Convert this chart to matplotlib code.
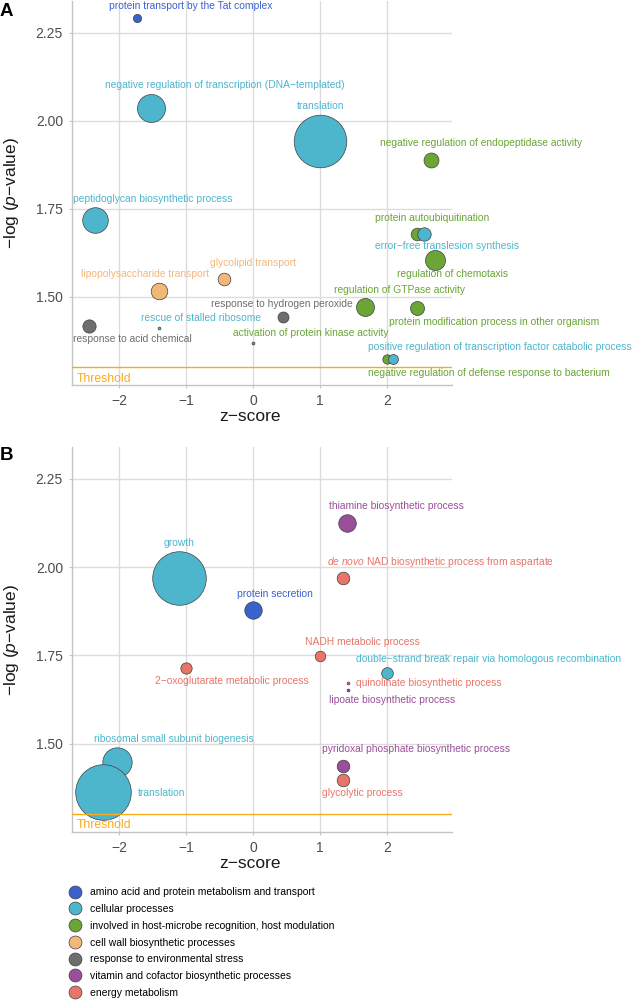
import matplotlib
matplotlib.use("Agg")
import matplotlib.pyplot as plt
from matplotlib.lines import Line2D

plt.rcParams['font.family'] = ['Liberation Sans', 'DejaVu Sans']
plt.rcParams['mathtext.fontset'] = 'custom'
plt.rcParams['mathtext.rm'] = 'Liberation Sans'
plt.rcParams['mathtext.it'] = 'Liberation Sans:italic'
plt.rcParams['mathtext.bf'] = 'Liberation Sans:bold'

# ---------------- categories ----------------
categories = [
    "amino acid and protein metabolism and transport",
    "cellular processes",
    "involved in host-microbe recognition, host modulation",
    "cell wall biosynthetic processes",
    "response to environmental stress",
    "vitamin and cofactor biosynthetic processes",
    "energy metabolism",
]
category_colors = ["#3A62CC", "#4DB6CC", "#6AA535", "#F3B77A", "#6E6E6E", "#9B4F9B", "#E8756A"]

# ---------------- panel A data ----------------
a_terms = [
    "protein transport by the Tat complex",
    "negative regulation of transcription (DNA\u2212templated)",
    "translation",
    "negative regulation of endopeptidase activity",
    "peptidoglycan biosynthetic process",
    "protein autoubiquitination",
    "error\u2212free translesion synthesis",
    "regulation of chemotaxis",
    "regulation of GTPase activity",
    "protein modification process in other organism",
    "lipopolysaccharide transport",
    "glycolipid transport",
    "response to hydrogen peroxide",
    "response to acid chemical",
    "rescue of stalled ribosome",
    "activation of protein kinase activity",
    "negative regulation of defense response to bacterium",
    "positive regulation of transcription factor catabolic process",
]
a_category = [0, 1, 1, 2, 1, 2, 1, 2, 2, 2, 3, 3, 4, 4, 1, 2, 2, 1]
a_zscore = [-1.74, -1.52, 1.00, 2.66, -2.36, 2.45, 2.56, 2.72, 1.67, 2.46,
            -1.41, -0.44, 0.45, -2.46, -1.41, 0.00, 2.00, 2.09]
a_logp = [2.293, 2.036, 1.942, 1.888, 1.717, 1.680, 1.680, 1.605, 1.470, 1.468,
          1.518, 1.550, 1.442, 1.418, 1.413, 1.368, 1.323, 1.323]
a_value = [17, 196, 692, 56, 164, 40, 45, 100, 81, 49, 69, 40, 30, 44, 2, 2, 22, 25]

# ---------------- panel B data ----------------
b_terms = [
    "growth",
    "protein secretion",
    "thiamine biosynthetic process",
    "$\\mathit{de\\ novo}$ NAD biosynthetic process from aspartate",
    "NADH metabolic process",
    "double\u2212strand break repair via homologous recombination",
    "quinolinate biosynthetic process",
    "lipoate biosynthetic process",
    "2\u2212oxoglutarate metabolic process",
    "ribosomal small subunit biogenesis",
    "translation",
    "pyridoxal phosphate biosynthetic process",
    "glycolytic process",
]
b_category = [1, 0, 5, 6, 6, 1, 6, 5, 6, 1, 1, 5, 6]
b_zscore = [-1.11, 0.00, 1.40, 1.35, 1.00, 2.01, 1.42, 1.42, -1.00, -2.04, -2.25, 1.35, 1.35]
b_logp = [1.970, 1.878, 2.125, 1.970, 1.748, 1.701, 1.672, 1.653, 1.715, 1.447, 1.362, 1.438, 1.398]
b_value = [718, 76, 77, 40, 28, 34, 2, 2, 32, 216, 773, 40, 40]

threshold = 1.301
x_ticks = [-2, -1, 0, 1, 2]
y_ticks = [1.50, 1.75, 2.00, 2.25]

# ---------------- layout (label offsets in pixels, y up) ----------------
a_label_offsets = [
    (53.7, 11.7), (73.3, 23.3), (0.3, 35.3), (50.0, 17.6), (57.0, 21.7),
    (15.3, 16.0), (22.5, -12.0), (18.0, -14.3), (35.0, 17.0), (76.4, -13.4),
    (-13.7, 16.7), (29.3, 16.0), (-1.3, 13.0), (43.4, -13.0), (41.8, 9.7),
    (57.5, 10.3), (102.0, -14.0), (106.8, 12.6),
]
b_label_offsets = [
    (0.3, 34.4), (22.3, 15.7), (50.0, 17.0), (97.8, 15.7), (42.5, 13.7),
    (101.4, 13.3), (80.9, -0.4), (44.2, -10.0), (45.8, -13.4), (57.4, 23.4),
    (59.3, -0.3), (73.0, 16.3), (19.2, -13.7),
]

W, H = 633, 1000
fig = plt.figure(figsize=(W / 100, H / 100), dpi=100)
PX = 0.72  # points per pixel
grid_c = "#DCDCDC"
spine_c = "#C4C4C4"
tick_c = "#4D4D4D"
thr_c = "#FBAA1A"


def make_panel(rect, terms, cats, xs, ys, vals, offsets, letter, letter_y):
    ax = fig.add_axes(rect)
    ax.set_xlim(-2.708, 2.977)
    ax.set_ylim(1.25, 2.34)
    ax.set_xticks(x_ticks)
    ax.set_xticklabels(["\u22122", "\u22121", "0", "1", "2"])
    ax.set_yticks(y_ticks)
    ax.set_yticklabels([f"{v:.2f}" for v in y_ticks])
    ax.grid(True, color=grid_c, linewidth=1.0, zorder=0)
    ax.set_axisbelow(True)
    for s in ["top", "right"]:
        ax.spines[s].set_visible(False)
    for s in ["left", "bottom"]:
        ax.spines[s].set_color(spine_c)
        ax.spines[s].set_linewidth(1.0)
    ax.tick_params(axis="both", colors=spine_c, labelcolor=tick_c, labelsize=10,
                   length=2.5, width=0.8, pad=4)
    cols = [category_colors[c] for c in cats]
    sizes = [v * 2.07 for v in vals]
    for x, y, s, c in zip(xs, ys, sizes, cols):
        ax.scatter([x], [y], s=s, c=c, edgecolors="#3F3F3F", linewidths=0.5, zorder=3)
    for t, x, y, c, (dx, dy) in zip(terms, xs, ys, cols, offsets):
        ax.annotate(t, (x, y), xytext=(dx * PX, dy * PX), textcoords="offset points",
                    ha="center", va="center", fontsize=7.4, color=c,
                    annotation_clip=False, zorder=4)
    ax.axhline(threshold, color=thr_c, linewidth=1.0, zorder=5)
    ax.annotate("Threshold", (-2.708, threshold), xytext=(5 * PX, -11.5 * PX),
                textcoords="offset points", ha="left", va="center",
                fontsize=8.8, color=thr_c)
    ax.set_xlabel("z\u2212score", fontsize=12.5, color="#1A1A1A")
    ax.xaxis.set_label_coords(0.468, -0.062)
    ax.set_ylabel("\u2212log ($\\mathit{p}$\u2212value)", fontsize=12.5, color="#1A1A1A")
    ax.yaxis.set_label_coords(-0.135, 0.5)
    fig.text(0 / W, 1 - letter_y / H, letter, fontsize=13.5, fontweight="bold",
             ha="left", va="center")
    return ax


make_panel([72 / W, 1 - 385 / H, 380 / W, 384 / H], a_terms, a_category, a_zscore,
           a_logp, a_value, a_label_offsets, "A", 11)
make_panel([72 / W, 1 - 832 / H, 380 / W, 385 / H], b_terms, b_category, b_zscore,
           b_logp, b_value, b_label_offsets, "B", 456)

handles = [Line2D([], [], marker="o", ls="", markersize=9.3, markerfacecolor=c,
                  markeredgecolor="#3F3F3F", markeredgewidth=0.5) for c in category_colors]
fig.legend(handles, categories, loc="center left",
           bbox_to_anchor=(69.8 / W, 1 - 942.5 / H), frameon=False, fontsize=7.5,
           handlelength=1.0, handletextpad=0.94, labelspacing=0.65,
           borderpad=0, borderaxespad=0)

fig.savefig("out.png", dpi=100)
